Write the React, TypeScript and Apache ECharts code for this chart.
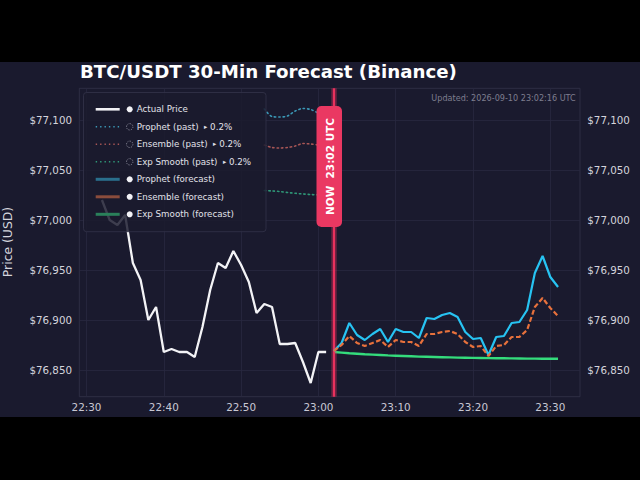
import { useEffect, useRef } from "react";
import * as echarts from "echarts";

// x values are minutes after 22:30 UTC
const actualMinutes = [
  2, 3, 4, 5, 6, 7, 8, 9, 10, 11, 12, 13, 14, 15, 16, 17, 18, 19, 20, 21, 22, 23, 24, 25, 26, 27, 28, 29, 30, 31,
];
const actualPrice = [
  77020, 77000, 76995, 77005, 76957, 76940, 76900, 76913, 76868, 76871, 76868, 76868, 76863, 76893, 76930,
  76957, 76952, 76969, 76955, 76938, 76907, 76916, 76913, 76876, 76876, 76877, 76858, 76837, 76868, 76868,
];

const pastMinutes = [23, 24, 25, 26, 27, 28, 29, 30, 31];
const prophetPast = [77111, 77103.5, 77103, 77104, 77109, 77111.5, 77110.5, 77107, 77105];
const ensemblePast = [77075, 77072.5, 77072, 77072.5, 77074, 77076.5, 77076, 77075, 77074];
const expSmoothPast = [77029.5, 77029, 77028.5, 77027.5, 77026.7, 77026, 77025.5, 77025, 77024.7];

const forecastMinutes = [
  32, 33, 34, 35, 36, 37, 38, 39, 40, 41, 42, 43, 44, 45, 46, 47, 48, 49, 50, 51, 52, 53, 54, 55, 56, 57, 58, 59, 60, 61,
];
const prophetForecast = [
  76869, 76877, 76897, 76885, 76880, 76886, 76891, 76878, 76891, 76888, 76888, 76882, 76902, 76901, 76905,
  76907, 76903, 76888, 76881, 76882, 76865, 76883, 76884, 76897, 76898, 76910, 76947, 76964, 76943, 76933,
];
const ensembleForecast = [
  76869, 76875, 76884, 76877, 76874, 76877, 76880, 76873, 76880, 76878, 76878, 76874, 76886, 76886, 76888,
  76889, 76886, 76878, 76873, 76874, 76864, 76874, 76875, 76883, 76883, 76890, 76913, 76922, 76912, 76904,
];
const expSmoothForecast = [
  76868, 76867.4, 76866.8, 76866.3, 76865.8, 76865.4, 76865, 76864.6, 76864.3, 76864, 76863.7, 76863.4, 76863.2,
  76863, 76862.8, 76862.6, 76862.4, 76862.3, 76862.1, 76862, 76861.9, 76861.8, 76861.7, 76861.6, 76861.5,
  76861.4, 76861.4, 76861.3, 76861.3, 76861.2,
];

const xTicks = [0, 10, 20, 30, 40, 50, 60];
const xTickLabels = ["22:30", "22:40", "22:50", "23:00", "23:10", "23:20", "23:30"];
const yTicks = [76850, 76900, 76950, 77000, 77050, 77100];

const nowMinute = 32;
const nowLabel = "NOW  23:02 UTC";
const updatedLabel = "Updated: 2026-09-10 23:02:16 UTC";
const titleText = "BTC/USDT 30-Min Forecast (Binance)";
const yAxisTitle = "Price (USD)";
const legendNames = [
  "Actual Price",
  "Prophet (past)",
  "Ensemble (past)",
  "Exp Smooth (past)",
  "Prophet (forecast)",
  "Ensemble (forecast)",
  "Exp Smooth (forecast)",
];
const pastScores = ["", "0.2%", "0.2%", "0.2%", "", "", ""];

const FONT = "DejaVu Sans";
const BG = "#1a1a2e";
const GRID = "#282840";
const WHITE = "#f3f3f6";
const CYAN = "#27c3f2";
const ORANGE = "#e8713c";
const GREEN = "#34dc7c";
const NOW_RED = "#e8315d";

const zip = (xs: number[], ys: number[]) => xs.map((x, i) => [x, ys[i]]);

// legend look per row: sample line + marker
const legendLook = [
  { color: "#f0f0f4", width: 2.6, dash: null as number[] | null, hollow: false },
  { color: "#3b98b6", width: 1.6, dash: [1.4, 3], hollow: true },
  { color: "#a85656", width: 1.6, dash: [1.4, 3], hollow: true },
  { color: "#2f9878", width: 1.6, dash: [1.4, 3], hollow: true },
  { color: "#2a6f8c", width: 3, dash: null, hollow: false },
  { color: "#8a4c3c", width: 3, dash: null, hollow: false },
  { color: "#2a805a", width: 3, dash: null, hollow: false },
];

function buildLegend(): any[] {
  const els: any[] = [
    {
      type: "rect",
      z: 20,
      shape: { x: 83.5, y: 92.5, width: 182.5, height: 139.2, r: 3 },
      style: { fill: "rgba(26,26,45,0.84)", stroke: "#34344a", lineWidth: 0.8 },
    },
  ];
  legendNames.forEach((name, i) => {
    const y = 109.3 + i * 17.5;
    const look = legendLook[i];
    els.push({
      type: "line",
      z: 21,
      shape: { x1: 95.7, y1: y, x2: 119.7, y2: y },
      style: { stroke: look.color, lineWidth: look.width, lineDash: look.dash ?? undefined },
    });
    els.push({
      type: "circle",
      z: 21,
      shape: { cx: 129.7, cy: y, r: look.hollow ? 3.2 : 3 },
      style: look.hollow
        ? { fill: "none", stroke: "#9a9aaa", lineWidth: 0.8, lineDash: [1.2, 1.2] }
        : { fill: "#f2f2f6" },
    });
    const score = pastScores[i];
    els.push({
      type: "text",
      z: 21,
      x: 136.7,
      y,
      style: {
        text: score ? `${name}  {tri|▸} ${score}` : name,
        fill: "#e2e2ea",
        fontSize: 8.7,
        fontFamily: FONT,
        verticalAlign: "middle",
        rich: { tri: { fontSize: 6.5, fill: "#e2e2ea", fontFamily: FONT } },
      },
    });
  });
  return els;
}

function buildOption(): echarts.EChartsOption {
  const yLabel = {
    customValues: yTicks,
    color: "#d4d4dc",
    fontSize: 10.3,
    fontFamily: FONT,
    margin: 7.3,
    formatter: (v: number) => "$" + Math.round(v).toLocaleString("en-US"),
  };
  return {
    animation: false,
    backgroundColor: BG,
    title: {
      text: titleText,
      left: 80,
      top: 62.5,
      padding: 0,
      textStyle: { color: "#ffffff", fontSize: 18.2, fontWeight: "bold", fontFamily: FONT },
    },
    grid: {
      left: 79.3,
      right: 60,
      top: 88.3,
      bottom: 83.3,
      outerBoundsMode: "none",
      show: true,
      borderColor: "#33334a",
      borderWidth: 0.8,
      backgroundColor: "transparent",
    } as any,
    xAxis: {
      type: "value",
      min: -0.93,
      max: 63.84,
      axisLine: { show: false },
      axisTick: { show: false, customValues: xTicks },
      axisLabel: {
        customValues: xTicks,
        color: "#c8c8d4",
        fontSize: 10.4,
        fontFamily: FONT,
        margin: 5,
        formatter: (v: number) => xTickLabels[xTicks.indexOf(Math.round(v))] ?? "",
      },
      splitLine: { show: true, lineStyle: { color: GRID, width: 0.8 } },
    },
    yAxis: [
      {
        type: "value",
        min: 76823.3,
        max: 77131.7,
        position: "left",
        axisLine: { show: false },
        axisTick: { show: false, customValues: yTicks },
        axisLabel: yLabel,
        splitLine: { show: true, lineStyle: { color: GRID, width: 0.8 } },
      },
      {
        type: "value",
        min: 76823.3,
        max: 77131.7,
        position: "right",
        axisLine: { show: false },
        axisTick: { show: false, customValues: yTicks },
        axisLabel: yLabel,
        splitLine: { show: false },
      },
    ],
    series: [
      {
        name: "Prophet (past)",
        type: "line",
        data: zip(pastMinutes, prophetPast),
        showSymbol: false,
        smooth: 0.3,
        lineStyle: { color: "#3b98b6", width: 1.6, type: [1.4, 3], cap: "round" },
        z: 2,
      },
      {
        name: "Ensemble (past)",
        type: "line",
        data: zip(pastMinutes, ensemblePast),
        showSymbol: false,
        smooth: 0.3,
        lineStyle: { color: "#a85656", width: 1.6, type: [1.4, 3], cap: "round" },
        z: 2,
      },
      {
        name: "Exp Smooth (past)",
        type: "line",
        data: zip(pastMinutes, expSmoothPast),
        showSymbol: false,
        smooth: 0.3,
        lineStyle: { color: "#2f9878", width: 1.6, type: [1.4, 3], cap: "round" },
        z: 2,
      },
      {
        name: "Actual Price",
        type: "line",
        data: zip(actualMinutes, actualPrice),
        showSymbol: false,
        lineStyle: { color: WHITE, width: 2.3 },
        z: 3,
        markLine: {
          silent: true,
          symbol: ["none", "none"],
          label: { show: false },
          data: [
            { xAxis: nowMinute, lineStyle: { color: "rgba(232,49,93,0.28)", width: 6, type: "solid" } },
            { xAxis: nowMinute, lineStyle: { color: NOW_RED, width: 2.4, type: "solid" } },
          ],
        },
      },
      {
        name: "Exp Smooth (forecast)",
        type: "line",
        data: zip(forecastMinutes, expSmoothForecast),
        showSymbol: false,
        lineStyle: { color: GREEN, width: 2.4 },
        z: 4,
      },
      {
        name: "Prophet (forecast)",
        type: "line",
        data: zip(forecastMinutes, prophetForecast),
        showSymbol: false,
        lineStyle: { color: CYAN, width: 2.2 },
        z: 5,
      },
      {
        name: "Ensemble (forecast)",
        type: "line",
        data: zip(forecastMinutes, ensembleForecast),
        showSymbol: false,
        lineStyle: { color: ORANGE, width: 2.2, type: [5, 2.5] },
        z: 6,
      },
    ],
    graphic: [
      { type: "rect", z: 30, shape: { x: 0, y: 0, width: 640, height: 62 }, style: { fill: "#000" } },
      { type: "rect", z: 30, shape: { x: 0, y: 417, width: 640, height: 63 }, style: { fill: "#000" } },
      {
        type: "text",
        z: 20,
        x: 7.5,
        y: 242,
        rotation: Math.PI / 2,
        style: {
          text: yAxisTitle,
          fill: "#d4d4dc",
          fontSize: 12.4,
          fontFamily: FONT,
          align: "center",
          verticalAlign: "middle",
        },
      },
      {
        type: "text",
        z: 20,
        x: 575.7,
        y: 97.7,
        style: {
          text: updatedLabel,
          fill: "#7e7e8e",
          fontSize: 8.1,
          fontFamily: FONT,
          align: "right",
          verticalAlign: "middle",
        },
      },
      ...buildLegend(),
      {
        type: "rect",
        z: 25,
        shape: { x: 316.5, y: 106, width: 25.5, height: 121, r: 5 },
        style: { fill: "#ea3862" },
      },
      {
        type: "text",
        z: 26,
        x: 329.5,
        y: 166.5,
        rotation: Math.PI / 2,
        style: {
          text: nowLabel,
          fill: "#ffffff",
          fontSize: 10.5,
          fontWeight: "bold",
          fontFamily: FONT,
          align: "center",
          verticalAlign: "middle",
        },
      },
    ],
  };
}

export default function App() {
  const chartRef = useRef<HTMLDivElement>(null);

  useEffect(() => {
    document.body.style.margin = "0";
    document.body.style.background = "#000";
    if (!chartRef.current) return;
    const chart = echarts.init(chartRef.current, undefined, { renderer: "svg" });
    chart.setOption(buildOption());
    return () => chart.dispose();
  }, []);

  return <div ref={chartRef} style={{ width: 640, height: 480 }} />;
}
